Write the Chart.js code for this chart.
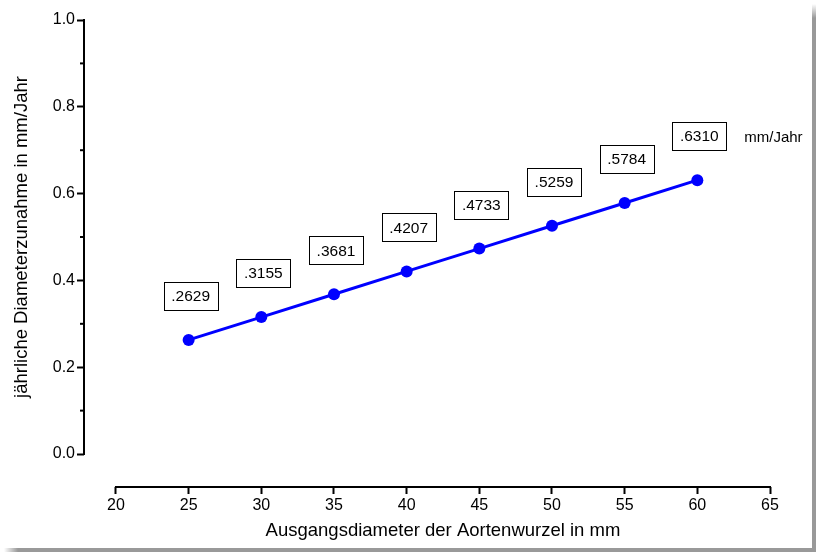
<!DOCTYPE html>
<html>
<head>
<meta charset="utf-8">
<script src="https://cdn.jsdelivr.net/npm/chart.js@4"></script>
<style>
  html, body { margin: 0; padding: 0; background: #fff; overflow: hidden; }
  #wrap { position: absolute; left: 0; top: 0; width: 816px; height: 552px; background: #fff; }
  #myChart { display: block; position: absolute; left: 0; top: 0; }
  /* drop shadow along right and bottom edge */
  #shadowRight {
    position: absolute; left: 812px; top: 4px; width: 4px; height: 548px;
    background: linear-gradient(to bottom, rgba(153,153,153,0) 0px, #999 14px, #999 100%);
  }
  #shadowBottom {
    position: absolute; left: 4px; top: 548px; width: 812px; height: 4px;
    background: linear-gradient(to right, rgba(153,153,153,0) 0px, #999 14px, #999 100%);
  }
</style>
</head>
<body>
<div id="wrap">
  <canvas id="myChart" width="812" height="548"></canvas>
  <div id="shadowRight"></div>
  <div id="shadowBottom"></div>
</div>
<script>
// Ausgangsdiameter (mm) und jaehrliche Zunahme (mm/Jahr)
var diameters = [25, 30, 35, 40, 45, 50, 55, 60];
var growth = [0.2629, 0.3155, 0.3681, 0.4207, 0.4733, 0.5259, 0.5784, 0.631];
var xTicks = [20, 25, 30, 35, 40, 45, 50, 55, 60, 65];
var yTicks = [0, 0.2, 0.4, 0.6, 0.8, 1.0];
var yMinorTicks = [0.1, 0.3, 0.5, 0.7, 0.9];
var xTitle = "Ausgangsdiameter der Aortenwurzel in mm";
var yTitle = "jährliche Diameterzunahme in mm/Jahr";
var unitText = "mm/Jahr";

var fontName = "'Liberation Sans', Arial, sans-serif";

var points = diameters.map(function (d, i) {
  return { x: d, y: growth[i] };
});

// axes are offset from each other, so draw lines, minor ticks, titles and value boxes here
var axisPlugin = {
  id: "axisPlugin",
  afterDraw: function (chart) {
    var ctx = chart.ctx;
    var xs = chart.scales.x;
    var ys = chart.scales.y;
    var area = chart.chartArea;
    ctx.save();
    ctx.strokeStyle = "#000";
    ctx.lineWidth = 2;

    // x axis line
    var xl = xs.getPixelForValue(xTicks[0]);
    var xr = xs.getPixelForValue(xTicks[xTicks.length - 1]);
    ctx.beginPath();
    ctx.moveTo(xl - 1, area.bottom);
    ctx.lineTo(xr + 1, area.bottom);
    ctx.stroke();

    // y axis line
    var yb = ys.getPixelForValue(yTicks[0]);
    var yt = ys.getPixelForValue(yTicks[yTicks.length - 1]);
    ctx.beginPath();
    ctx.moveTo(area.left, yb + 1);
    ctx.lineTo(area.left, yt - 1);
    ctx.stroke();

    // minor ticks
    yMinorTicks.forEach(function (v) {
      var py = ys.getPixelForValue(v);
      ctx.beginPath();
      ctx.moveTo(area.left - 4, py);
      ctx.lineTo(area.left, py);
      ctx.stroke();
    });

    // axis titles
    ctx.fillStyle = "#000";
    ctx.font = "18.5px " + fontName;
    ctx.textAlign = "center";
    ctx.textBaseline = "alphabetic";
    ctx.fillText(xTitle, (xl + xr) / 2, chart.height - 12);

    ctx.save();
    ctx.translate(22, (yb + yt) / 2);
    ctx.rotate(-Math.PI / 2);
    ctx.textBaseline = "middle";
    ctx.fillText(yTitle, 0, 0);
    ctx.restore();

    // value boxes above the points
    ctx.font = "15.5px " + fontName;
    ctx.textBaseline = "middle";
    ctx.lineWidth = 1;
    var meta = chart.getDatasetMeta(0);
    var lastBox = null;
    meta.data.forEach(function (pt, i) {
      var txt = growth[i].toFixed(4).replace(/^0/, "");
      var w = ctx.measureText(txt).width + 15;
      var h = 28;
      var cx = pt.x + 2;
      var cy = pt.y - 44;
      ctx.fillStyle = "#fff";
      ctx.fillRect(Math.round(cx - w / 2) + 0.5, Math.round(cy - h / 2) + 0.5, Math.round(w), h);
      ctx.strokeRect(Math.round(cx - w / 2) + 0.5, Math.round(cy - h / 2) + 0.5, Math.round(w), h);
      ctx.fillStyle = "#000";
      ctx.textAlign = "center";
      ctx.fillText(txt, cx, cy + 1);
      lastBox = { right: cx + w / 2, cy: cy };
    });

    if (lastBox) {
      ctx.font = "15px " + fontName;
      ctx.textAlign = "left";
      ctx.fillText(unitText, lastBox.right + 18, lastBox.cy + 2);
    }
    ctx.restore();
  },
};

var ctx1 = document.getElementById("myChart").getContext("2d");
var myChart = new Chart(ctx1, {
  type: "line",
  data: {
    datasets: [
      {
        data: points,
        borderColor: "#0000ff",
        backgroundColor: "#0000ff",
        borderWidth: 3,
        pointRadius: 6,
        pointHoverRadius: 6,
        pointBackgroundColor: "#0000ff",
        pointBorderWidth: 0,
        fill: false,
        tension: 0,
      },
    ],
  },
  options: {
    responsive: false,
    animation: false,
    layout: { padding: { top: 20, right: 42, left: 0, bottom: 0 } },
    plugins: {
      legend: { display: false },
      tooltip: { enabled: false },
    },
    scales: {
      x: {
        type: "linear",
        min: 17.8,
        max: 65,
        afterBuildTicks: function (scale) {
          scale.ticks = xTicks.map(function (v) {
            return { value: v };
          });
        },
        afterFit: function (scale) {
          scale.height = 61;
        },
        border: { display: false },
        grid: {
          drawOnChartArea: false,
          drawTicks: true,
          tickLength: 7,
          tickWidth: 2,
          tickColor: "#000",
        },
        ticks: {
          color: "#000",
          padding: 2,
          maxRotation: 0,
          font: { family: fontName, size: 16 },
        },
      },
      y: {
        type: "linear",
        min: -0.076,
        max: 1.0,
        afterBuildTicks: function (scale) {
          scale.ticks = yTicks.map(function (v) {
            return { value: v };
          });
        },
        afterFit: function (scale) {
          scale.width = 84;
        },
        border: { display: false },
        grid: {
          drawOnChartArea: false,
          drawTicks: true,
          tickLength: 7,
          tickWidth: 2,
          tickColor: "#000",
        },
        ticks: {
          color: "#000",
          padding: 2,
          font: { family: fontName, size: 16 },
          callback: function (v) {
            return v.toFixed(1);
          },
        },
      },
    },
  },
  plugins: [axisPlugin],
});
</script>
</body>
</html>
